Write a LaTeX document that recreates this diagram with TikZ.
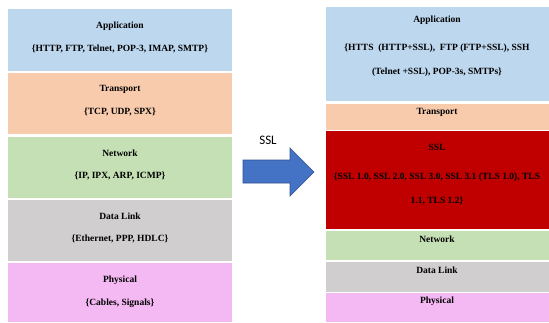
\documentclass[tikz,border=0pt]{standalone}
\usepackage{fontspec}
\setmainfont{Liberation Serif}
\newfontfamily\calfont{Carlito}
\definecolor{appc}{HTML}{BDD7EE}
\definecolor{trac}{HTML}{F8CBAD}
\definecolor{netc}{HTML}{C5E0B4}
\definecolor{dlc}{HTML}{D0CECE}
\definecolor{phyc}{HTML}{F4B8F2}
\definecolor{sslc}{HTML}{C00000}
\definecolor{arrf}{HTML}{4472C4}
\definecolor{arrd}{HTML}{2F528F}
\begin{document}
\begin{tikzpicture}[x=1pt,y=-1pt,
  lbl/.style={font=\fontsize{9.5}{11}\selectfont\bfseries, inner sep=0pt, text=black}]
\useasboundingbox (0,0) rectangle (549,322);
% left stack
\fill[appc] (8,9) rectangle (232,71);
\fill[trac] (8,73) rectangle (232,134);
\fill[netc] (8,137) rectangle (232,198);
\fill[dlc] (8,200) rectangle (232,261);
\fill[phyc] (8,263) rectangle (232,322);
\node[lbl] (la1) at (120,26) {Application};
\node[lbl] (la2) at (120,49) {\{HTTP, FTP, Telnet, POP-3, IMAP, SMTP\}};
\node[lbl] (lt1) at (120,89) {Transport};
\node[lbl] (lt2) at (120,112) {\{TCP, UDP, SPX\}};
\node[lbl] (ln1) at (120,153) {Network};
\node[lbl] (ln2) at (120,176) {\{IP, IPX, ARP, ICMP\}};
\node[lbl] (ld1) at (120,216) {Data Link};
\node[lbl] (ld2) at (120,239) {\{Ethernet, PPP, HDLC\}};
\node[lbl] (lp1) at (120,280) {Physical};
\node[lbl] (lp2) at (120,303) {\{Cables, Signals\}};
% arrow
\draw[fill=arrf, draw=arrd, line width=0.6pt, line join=miter]
  (243,160) -- (290,160) -- (290,148) -- (314,172) -- (290,196) -- (290,183) -- (243,183) -- cycle;
\node[font=\calfont\fontsize{13}{14}\selectfont, inner sep=0pt] (ssl) at (268,140) {SSL};
% right stack
\fill[appc] (326,7) rectangle (549,101);
\fill[trac] (326,104) rectangle (549,130);
\fill[sslc] (326,131) rectangle (549,229);
\fill[netc] (326,231) rectangle (549,260);
\fill[dlc] (326,262) rectangle (549,292);
\fill[phyc] (326,293) rectangle (549,322);
\node[lbl] (ra1) at (437,20) {Application};
\node[lbl] (ra2) at (437,48) {\{HTTS\ \ (HTTP+SSL),\ \ FTP (FTP+SSL), SSH};
\node[lbl] (ra3) at (437,72) {(Telnet +SSL), POP-3s, SMTPs\}};
\node[lbl] (rt1) at (437,112) {Transport};
\node[lbl] (rs1) at (437,147) {SSL};
\node[lbl] (rs2) at (437,177) {\{SSL 1.0, SSL 2.0, SSL 3.0, SSL 3.1 (TLS 1.0), TLS};
\node[lbl] (rs3) at (437,201) {1.1, TLS 1.2\}};
\node[lbl] (rn1) at (437,239) {Network};
\node[lbl] (rd1) at (437,270) {Data Link};
\node[lbl] (rp1) at (437,301) {Physical};
\end{tikzpicture}
\end{document}
